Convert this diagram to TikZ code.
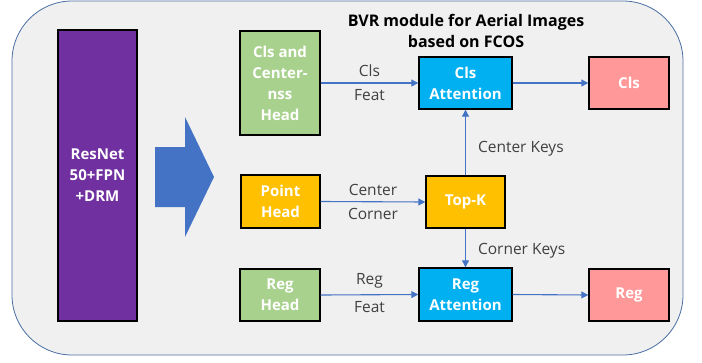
\documentclass[tikz,border=0pt]{standalone}
\usepackage{fontspec}
\setmainfont{Open Sans}
\usetikzlibrary{arrows.meta}
\definecolor{bgfill}{HTML}{F0F0F0}
\definecolor{bgline}{HTML}{4A6FA5}
\definecolor{netpurple}{HTML}{7030A0}
\definecolor{headgreen}{HTML}{A9D18E}
\definecolor{headyellow}{HTML}{FFC000}
\definecolor{attblue}{HTML}{00B0F0}
\definecolor{outpink}{HTML}{FF9999}
\definecolor{linkblue}{HTML}{4472C4}
\definecolor{labelgray}{HTML}{404040}
\tikzset{
  blockbox/.style={draw=black, line width=1.4pt, text=white, align=center,
    font=\fontsize{15}{21}\selectfont\bfseries, inner sep=2pt},
  link/.style={-{Triangle[length=7pt,width=7pt]}, draw=linkblue, line width=1.1pt},
  linklabel/.style={text=labelgray, font=\fontsize{15.5}{17}\selectfont, inner sep=6pt}
}
\begin{document}
\begin{tikzpicture}[x=1pt, y=-1pt]
  \useasboundingbox (0,0) rectangle (702,362);
  \draw[fill=bgfill, draw=bgline, line width=0.8pt, rounded corners=60pt]
    (12,1) rectangle (683,355);

  \node[font=\fontsize{16}{21}\selectfont\bfseries, align=center] (title) at (466,31)
    {BVR module for Aerial Images\\based on FCOS};

  % backbone and block arrow
  \node[blockbox, fill=netpurple, minimum width=79pt, minimum height=291pt] (resnet)
    at (97.5,175.5) {ResNet\\50+FPN\\+DRM};
  \fill[linkblue] (155,147) -- (185,147) -- (185,117) -- (214,177) -- (185,237)
    -- (185,207) -- (155,207) -- cycle;

  % heads
  \node[blockbox, fill=headgreen, minimum width=80pt, minimum height=104pt] (clshead)
    at (280,83) {Cls and\\Center-\\nss\\Head};
  \node[blockbox, fill=headyellow, minimum width=79pt, minimum height=53pt] (pointhead)
    at (280.5,201.5) {Point\\Head};
  \node[blockbox, fill=headgreen, minimum width=80pt, minimum height=52pt] (reghead)
    at (280,295) {Reg\\Head};

  % attention and outputs
  \node[blockbox, fill=attblue, minimum width=93pt, minimum height=52pt] (clsatt)
    at (465.5,83) {Cls\\Attention};
  \node[blockbox, fill=headyellow, minimum width=79pt, minimum height=52pt] (topk)
    at (465.5,202) {Top-K};
  \node[blockbox, fill=attblue, minimum width=93pt, minimum height=53pt] (regatt)
    at (465.5,294.5) {Reg\\Attention};
  \node[blockbox, fill=outpink, minimum width=80pt, minimum height=52pt] (clsout)
    at (629,83) {Cls};
  \node[blockbox, fill=outpink, minimum width=80pt, minimum height=52pt] (regout)
    at (629,295) {Reg};

  \draw[link] (clshead.east) -- node[linklabel, above] {Cls} node[linklabel, below] {Feat} (clsatt.west);
  \draw[link] (pointhead.east) -- node[linklabel, above] {Center} node[linklabel, below] {Corner} (topk.west);
  \draw[link] (reghead.east) -- node[linklabel, above] {Reg} node[linklabel, below] {Feat} (regatt.west);
  \draw[link] (clsatt.east) -- (clsout.west);
  \draw[link] (regatt.east) -- (regout.west);
  \draw[link] (topk.north) -- node[linklabel, right, xshift=6pt, yshift=-6pt] {Center Keys} (clsatt.south);
  \draw[link] (topk.south) -- node[linklabel, right, xshift=6pt, yshift=-3pt] {Corner Keys} (regatt.north);
\end{tikzpicture}
\end{document}
